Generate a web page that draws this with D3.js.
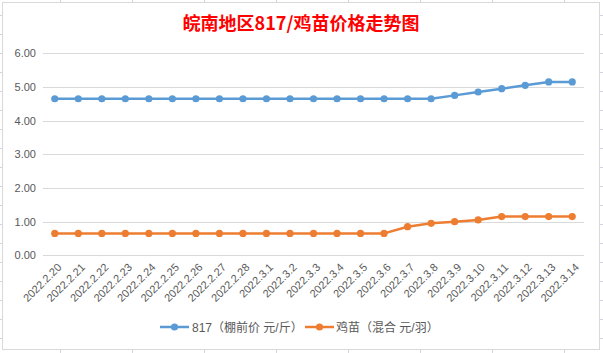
<!DOCTYPE html>
<html><head><meta charset="utf-8">
<script src="https://cdn.jsdelivr.net/npm/d3@7"></script>
<style>html,body{margin:0;padding:0;background:#fff;overflow:hidden}</style>
</head><body>
<svg id="c" width="603" height="353"></svg>
<script>
const categories = ["2022.2.20","2022.2.21","2022.2.22","2022.2.23","2022.2.24","2022.2.25","2022.2.26","2022.2.27","2022.2.28","2022.3.1","2022.3.2","2022.3.3","2022.3.4","2022.3.5","2022.3.6","2022.3.7","2022.3.8","2022.3.9","2022.3.10","2022.3.11","2022.3.12","2022.3.13","2022.3.14"];
const series817 = [4.65,4.65,4.65,4.65,4.65,4.65,4.65,4.65,4.65,4.65,4.65,4.65,4.65,4.65,4.65,4.65,4.65,4.75,4.85,4.95,5.05,5.15,5.15];
const seriesChick = [0.65,0.65,0.65,0.65,0.65,0.65,0.65,0.65,0.65,0.65,0.65,0.65,0.65,0.65,0.65,0.85,0.95,1.0,1.05,1.15,1.15,1.15,1.15];
const yTicks = [0,1,2,3,4,5,6];
const seriesNames = ["817（棚前价 元/斤）","鸡苗（混合 元/羽）"];
const colors = ["#5B9BD5","#ED7D31"];
const title = "皖南地区817/鸡苗价格走势图";

const svg = d3.select("#c");
const W = 603, H = 353;
const font = "'Liberation Sans', 'Noto Sans CJK SC', sans-serif";

// spreadsheet cell grid behind chart
const grid = svg.append("g").attr("stroke","#d4d4e0").attr("stroke-width",1);
d3.range(60, W, 72).forEach(x => grid.append("line").attr("x1",x+0.5).attr("x2",x+0.5).attr("y1",0).attr("y2",H));
d3.range(15, H, 19).forEach(y => grid.append("line").attr("x1",0).attr("x2",W).attr("y1",y+0.5).attr("y2",y+0.5));

// chart area
svg.append("rect").attr("x",2.5).attr("y",2.5).attr("width",597).attr("height",347)
  .attr("fill","#fff").attr("stroke","#d9d9d9").attr("stroke-width",1);

// title
svg.append("text").attr("x",301).attr("y",30).attr("text-anchor","middle")
  .attr("font-family","'Noto Sans CJK SC', sans-serif").attr("font-weight","bold")
  .attr("font-size",18).attr("fill","#FF0000").text(title);

const x = d3.scalePoint().domain(categories).range([43,584]).padding(0.5);
const y = d3.scaleLinear().domain([0,6]).range([255.3,53.3]);

// gridlines
svg.append("g").selectAll("line").data(yTicks).join("line")
  .attr("x1",43).attr("x2",584)
  .attr("y1",d=>Math.round(y(d))+0.5).attr("y2",d=>Math.round(y(d))+0.5)
  .attr("stroke","#d9d9d9").attr("stroke-width",1);

// y axis labels
const yAxis = d3.axisLeft(y).tickValues(yTicks).tickFormat(d3.format(".2f")).tickSize(0).tickPadding(0);
const ya = svg.append("g").attr("transform","translate(36,0)").call(yAxis);
ya.select(".domain").remove();
ya.selectAll("text").attr("font-family",font).attr("font-size",11).attr("fill","#595959");

// x axis labels rotated
const xAxis = d3.axisBottom(x).tickSize(0).tickPadding(0);
const xa = svg.append("g").attr("transform","translate(0,262)").call(xAxis);
xa.select(".domain").remove();
xa.selectAll("text")
  .attr("font-family",font).attr("font-size",11).attr("fill","#595959")
  .attr("text-anchor","end").attr("dy",0)
  .attr("transform","translate(7,6) rotate(-45)");

// lines
const allSeries = [series817, seriesChick];
const line = d3.line().x((d,i)=>x(categories[i])).y(d=>y(d));
allSeries.forEach((s,k)=>{
  svg.append("path").datum(s).attr("d",line).attr("fill","none")
    .attr("stroke",colors[k]).attr("stroke-width",2.5).attr("stroke-linejoin","round");
  svg.append("g").selectAll("circle").data(s).join("circle")
    .attr("cx",(d,i)=>x(categories[i])).attr("cy",d=>y(d)).attr("r",3.6)
    .attr("fill",colors[k]);
});

// legend
const lg = svg.append("g");
const legendItems = [{x:160, tx:192}, {x:305, tx:336}];
legendItems.forEach((it,k)=>{
  const ly = 327;
  lg.append("line").attr("x1",it.x).attr("x2",it.x+29).attr("y1",ly).attr("y2",ly)
    .attr("stroke",colors[k]).attr("stroke-width",2.5);
  lg.append("circle").attr("cx",it.x+14.5).attr("cy",ly).attr("r",3.6).attr("fill",colors[k]);
  lg.append("text").attr("x",it.tx).attr("y",ly+4.5)
    .attr("font-family",font).attr("font-size",12).attr("fill","#595959").text(seriesNames[k]);
});
</script>
</body></html>
